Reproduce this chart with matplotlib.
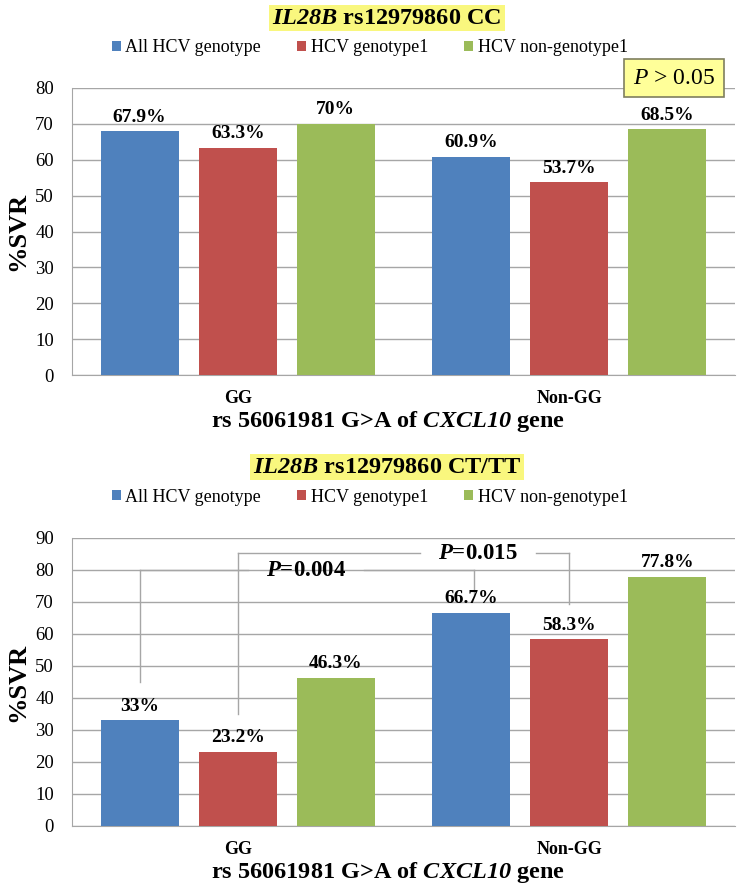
import matplotlib
matplotlib.use("Agg")
import matplotlib.pyplot as plt
import numpy as np
from matplotlib.patches import Patch

plt.rcParams['font.family'] = ['Liberation Serif', 'DejaVu Serif']
plt.rcParams['mathtext.fontset'] = 'custom'
plt.rcParams['mathtext.rm'] = 'Liberation Serif'
plt.rcParams['mathtext.it'] = 'Liberation Serif:italic'
plt.rcParams['mathtext.bf'] = 'Liberation Serif:bold'
plt.rcParams['mathtext.bfit'] = 'Liberation Serif:italic:bold'

categories = ["GG", "Non-GG"]
series_names = ["All HCV genotype", "HCV genotype1", "HCV non-genotype1"]
colors = ["#4F81BD", "#C0504D", "#9BBB59"]

cc_values = [[67.9, 60.9], [63.3, 53.7], [70.0, 68.5]]
cc_labels = [["67.9%", "60.9%"], ["63.3%", "53.7%"], ["70%", "68.5%"]]

ct_values = [[33.0, 66.7], [23.2, 58.3], [46.3, 77.8]]
ct_labels = [["33%", "66.7%"], ["23.2%", "58.3%"], ["46.3%", "77.8%"]]

titles = [r"$\mathbfit{IL28B}$ rs12979860 CC", r"$\mathbfit{IL28B}$ rs12979860 CT/TT"]
xlabel = r"rs 56061981 G>A of $\mathbfit{CXCL10}$ gene"

fig = plt.figure(figsize=(7.42, 8.90), dpi=100)
W, H = 742, 890

def px_axes(l, t, r, b):
    return fig.add_axes([l / W, 1 - b / H, (r - l) / W, (b - t) / H])

ax1 = px_axes(72, 88, 735, 375)
ax2 = px_axes(72, 538, 735, 826)

bw = 0.235
off = 0.296
x = np.arange(len(categories))

def draw(ax, values, labels, ymax):
    for i in range(3):
        xs = x + (i - 1) * off
        ax.bar(xs, values[i], width=bw, color=colors[i], zorder=3)
        for xx, v, lab in zip(xs, values[i], labels[i]):
            ax.annotate(lab, (xx, v), xytext=(0, 4), textcoords="offset points",
                        ha="center", va="bottom", fontsize=14, fontweight="bold", zorder=5)
    ax.set_xlim(-0.5, 1.5)
    ax.set_ylim(0, ymax)
    ax.set_yticks(np.arange(0, ymax + 1, 10))
    ax.grid(axis="y", color="#A6A6A6", linewidth=1, zorder=0)
    for s in ["top", "right"]:
        ax.spines[s].set_visible(False)
    for s in ["left", "bottom"]:
        ax.spines[s].set_color("#A6A6A6")
    ax.set_xticks(x)
    ax.set_xticklabels(categories, fontsize=13, fontweight="bold")
    ax.tick_params(axis="x", length=0, pad=11)
    ax.tick_params(axis="y", labelsize=13.5, length=0, pad=13)
    ax.set_ylabel("%SVR", fontsize=19, fontweight="bold")
    ax.yaxis.set_label_coords(-43 / 663, 0.5)
    ax.set_xlabel(xlabel, fontsize=17.5, fontweight="bold")
    h_px = ax.get_position().height * H
    ax.xaxis.set_label_coords(0.477, -34 / h_px)

draw(ax1, cc_values, cc_labels, 80)
draw(ax2, ct_values, ct_labels, 90)

# titles with highlight
for ytitle, t in [(18, titles[0]), (467, titles[1])]:
    fig.text(387 / W, 1 - ytitle / H, t, ha="center", va="center", fontsize=17.5,
             fontweight="bold",
             bbox=dict(boxstyle="square,pad=0.12", facecolor="#F9F77E", edgecolor="none"))

handles = [Patch(facecolor=c, edgecolor="none") for c in colors]
for yleg in [48, 497]:
    fig.legend(handles, series_names, loc="center", bbox_to_anchor=(370 / W, 1 - yleg / H),
               ncol=3, frameon=False, fontsize=13, handlelength=0.5, handleheight=0.5,
               handletextpad=0.25, columnspacing=2.0)

# P > 0.05 box
fig.text(674 / W, 1 - 78 / H, r"$\mathit{P}$ > 0.05", ha="center", va="center", fontsize=17,
         bbox=dict(boxstyle="square,pad=0.38", facecolor="#FFFF99", edgecolor="#7F7F5F", linewidth=1.2))

# brackets on bottom chart
gc = "#A6A6A6"
xb_blue_gg = x[0] - off
xb_red_gg = x[0]
xb_blue_ng = x[1] - off
xb_red_ng = x[1]

# P=0.004 bracket (blue GG vs blue Non-GG)
y1 = 80
ax2.plot([xb_blue_gg, xb_blue_gg], [45, y1], color=gc, lw=1, zorder=4)
ax2.plot([xb_blue_gg, 0.03], [y1, y1], color=gc, lw=1, zorder=4)
ax2.plot([0.38, xb_blue_ng + 0.01], [y1, y1], color=gc, lw=1, zorder=4)
ax2.plot([xb_blue_ng + 0.01, xb_blue_ng + 0.01], [y1, 72], color=gc, lw=1, zorder=4)
ax2.text(0.205, y1, r"$\mathbfit{P}$=0.004", ha="center", va="center", fontsize=16.5,
         fontweight="bold", zorder=6)

# P=0.015 bracket (red GG vs red Non-GG)
y2 = 85.3
ax2.plot([xb_red_gg, xb_red_gg], [35, y2], color=gc, lw=1, zorder=4)
ax2.plot([xb_red_gg, 0.55], [y2, y2], color=gc, lw=1, zorder=4)
ax2.plot([0.9, xb_red_ng], [y2, y2], color=gc, lw=1, zorder=4)
ax2.plot([xb_red_ng, xb_red_ng], [y2, 69.5], color=gc, lw=1, zorder=4)
ax2.text(0.725, y2, r"$\mathbfit{P}$=0.015", ha="center", va="center", fontsize=16.5,
         fontweight="bold", zorder=6)

fig.savefig("out.png", dpi=100)
